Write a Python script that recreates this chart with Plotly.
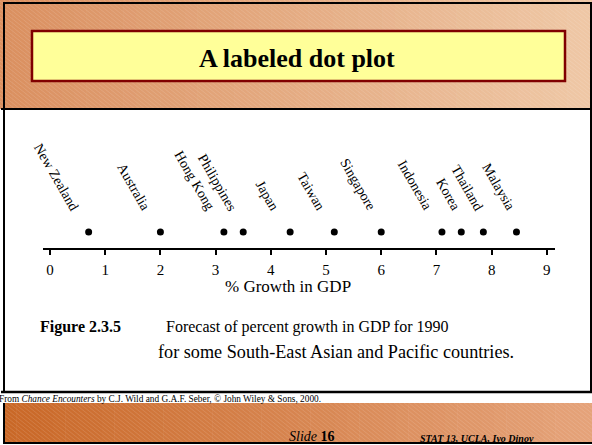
import plotly.graph_objects as go

# ---------------- data ----------------
countries = ["New Zealand", "Australia", "Hong Kong", "Philippines", "Japan",
             "Taiwan", "Singapore", "Indonesia", "Korea", "Thailand", "Malaysia"]
growth = [0.7, 2.0, 3.15, 3.5, 4.35, 5.15, 6.0, 7.1, 7.45, 7.85, 8.45]
tick_vals = [0, 1, 2, 3, 4, 5, 6, 7, 8, 9]
tick_text = [str(v) for v in tick_vals]

title_text = "<b>A labeled dot plot</b>"
axis_title = "% Growth in GDP"
fig_label = "<b>Figure 2.3.5</b>"
caption1 = "Forecast of percent growth in GDP for 1990"
caption2 = "for some South-East Asian and Pacific countries."
source_text = "From <i>Chance Encounters</i> by C.J. Wild and G.A.F. Seber, © John Wiley &amp; Sons, 2000."
slide_text = "<i>Slide</i> <b>16</b>"
course_text = "<b><i>STAT 13, UCLA, Ivo Dinov</i></b>"

# label placement nudges (pixels, style only)
label_nudge = [0, 0, 0, 3, -2, 0, 4, 0, 9, 9, 9]

# ---------------- helpers (pixel -> paper) ----------------
W, H = 592, 445
SERIF = "Liberation Serif, Times New Roman, serif"


def px(x):
    return x / W


def py(y):
    return 1 - y / H


def lerp_color(c0, c1, t):
    return "rgb(%d,%d,%d)" % tuple(round(a + (b - a) * t) for a, b in zip(c0, c1))


shapes = []


def gradient_band(x0, x1, y0, y1, c0, c1, n=48):
    step = (x1 - x0) / n
    for i in range(n):
        shapes.append(dict(type="rect", xref="paper", yref="paper",
                           x0=px(x0 + i * step), x1=px(x0 + (i + 1) * step + 0.6),
                           y0=py(y1), y1=py(y0),
                           fillcolor=lerp_color(c0, c1, (i + 0.5) / n),
                           line=dict(width=0), layer="below"))


def stripes(x0, x1, y0, y1, spacing=5.0, slope=0.8):
    segs = []
    h = y1 - y0
    c = x0 - h / slope
    while c < x1:
        xa, ya = c, y0
        xb, yb = c + h / slope, y1
        if xa < x0:
            ya = y0 + slope * (x0 - c)
            xa = x0
        if xb > x1:
            yb = y0 + slope * (x1 - c)
            xb = x1
        if xb > xa:
            segs.append("M%.5f,%.5f L%.5f,%.5f" % (px(xa), py(ya), px(xb), py(yb)))
        c += spacing
    shapes.append(dict(type="path", xref="paper", yref="paper", path=" ".join(segs),
                       line=dict(color="rgba(255,255,255,0.13)", width=1), layer="below"))


def hline(x0, x1, y, w=2):
    shapes.append(dict(type="line", xref="paper", yref="paper", x0=px(x0), x1=px(x1),
                       y0=py(y), y1=py(y), line=dict(color="black", width=w)))


def vline(x, y0, y1, w=2):
    shapes.append(dict(type="line", xref="paper", yref="paper", x0=px(x), x1=px(x),
                       y0=py(y0), y1=py(y1), line=dict(color="black", width=w)))


# top band
gradient_band(0, 592, 0, 109, (218, 143, 95), (239, 200, 166))
stripes(0, 592, 0, 109)
# bottom band
gradient_band(4, 592, 403, 443, (201, 103, 38), (229, 163, 122))
stripes(4, 592, 403, 443)

# borders
hline(3, 592, 3)
vline(4, 2, 392)
vline(591, 2, 392)
hline(1, 592, 109)
hline(1, 592, 392, 2.5)
vline(4, 403, 444)
hline(3, 592, 443)

# title box
shapes.append(dict(type="rect", xref="paper", yref="paper", x0=px(32), x1=px(565),
                   y0=py(81), y1=py(31), fillcolor="#FFFF99",
                   line=dict(color="#800000", width=2.5)))

# ---------------- figure ----------------
fig = go.Figure()
fig.add_trace(go.Scatter(x=growth, y=[0] * len(growth), mode="markers",
                         marker=dict(color="black", size=7),
                         text=countries, hoverinfo="text+x", showlegend=False))

annotations = []
for c, g, dx in zip(countries, growth, label_nudge):
    annotations.append(dict(x=g, y=0, xref="x", yref="y", text=c, showarrow=False,
                            textangle=60, xanchor="right", yanchor="bottom",
                            xshift=-4 + dx, yshift=16,
                            font=dict(family=SERIF, size=14, color="black")))


def txt(x, y, text, size, anchor="left"):
    annotations.append(dict(x=px(x), y=py(y), xref="paper", yref="paper", text=text,
                            showarrow=False, xanchor=anchor, yanchor="middle",
                            font=dict(family=SERIF, size=size, color="black")))


txt(297, 58, title_text, 26, "center")
txt(288, 286, axis_title, 17, "center")
txt(38, 327, fig_label, 16)
txt(164, 327, caption1, 16)
txt(156, 352, caption2, 18.2)
txt(-3, 399, source_text, 9.3)
txt(287, 436, slide_text, 14)
txt(418, 438, course_text, 10)

fig.update_layout(
    width=W, height=H,
    margin=dict(l=0, r=0, t=0, b=0),
    paper_bgcolor="white", plot_bgcolor="rgba(0,0,0,0)",
    shapes=shapes, annotations=annotations,
    xaxis=dict(domain=[px(43), px(555)], range=[-0.127, 9.148],
               showline=True, linecolor="black", linewidth=1.5,
               ticks="outside", ticklen=5, tickwidth=1.5, tickcolor="black",
               tickvals=tick_vals, ticktext=tick_text, ticklabelstandoff=2,
               tickfont=dict(family=SERIF, size=15, color="black"),
               showgrid=False, zeroline=False, fixedrange=True),
    yaxis=dict(domain=[py(248), py(148)], range=[-0.16, 0.84], visible=False,
               fixedrange=True),
    showlegend=False,
)

fig.write_html("out.html",
               config={"displayModeBar": False},
               post_script="document.documentElement.style.margin='0';"
                           "document.body.style.margin='0';"
                           "document.body.style.overflow='hidden';")
